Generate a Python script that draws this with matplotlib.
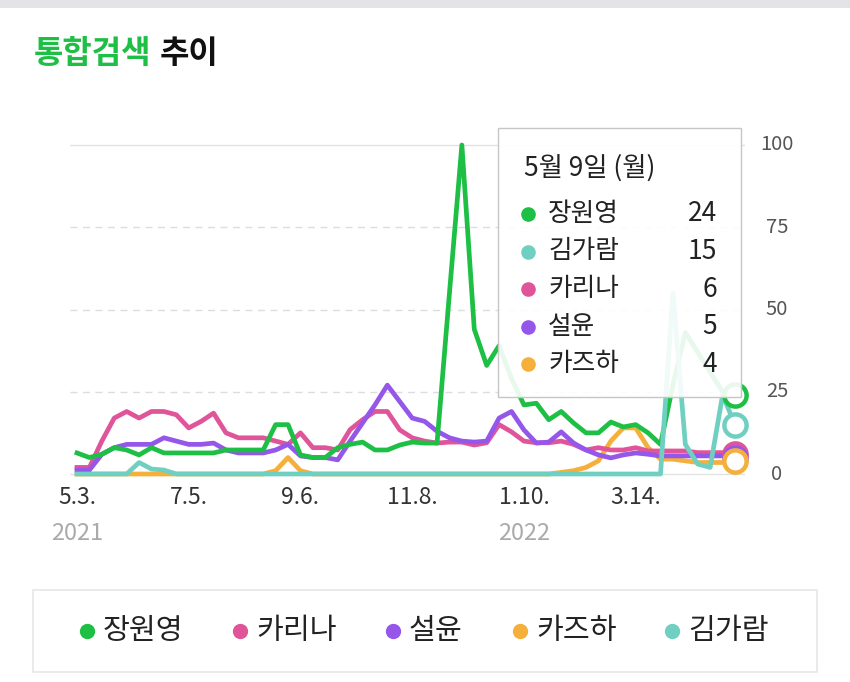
import numpy as np
import pandas as pd
import matplotlib
matplotlib.use('Agg')
import matplotlib.pyplot as plt
import matplotlib.transforms as mtransforms
from matplotlib.patches import Rectangle

plt.rcParams['font.family'] = ['Noto Sans CJK KR', 'DejaVu Sans']

# weekly search trend, 2021-05-03 .. 2022-05-09
dates = pd.date_range('2021-05-03', periods=54, freq='7D')

names = ['장원영', '카리나', '설윤', '카즈하', '김가람']
colors = ['#1dbf45', '#e0559a', '#9457ea', '#f4b03a', '#6fd0c2']

wonyoung = [6.4, 5, 6, 8, 7.3, 5.8, 8, 6.4, 6.4, 6.4, 6.4, 6.4, 7.3, 7.3, 7.3, 7.3, 15, 15,
            5.8, 5, 5, 8, 9, 9.7, 7.3, 7.3, 8.8, 9.7, 9.4, 9.4, 55, 100, 44, 33, 39, 29,
            21, 21.5, 16.5, 19, 15.5, 12.5, 12.5, 15.8, 14.3, 15, 12.5, 9, 27, 43, 37, 31, 25, 24]
karina = [2, 2, 10, 17, 19, 17, 19, 19, 18, 14, 16, 18.5, 12.5, 11, 11, 11, 10, 9,
          12.5, 8, 8, 7.3, 13.5, 16.5, 19, 19, 13.4, 11, 10, 9.4, 9.7, 9.7, 8.8, 9.5, 15, 12.8,
          10, 9.5, 9.5, 10, 9, 7.3, 8, 7.3, 7.3, 8, 7, 7, 7, 7, 6.5, 6.5, 6.5, 6]
seolyoon = [1.2, 1.2, 6, 8, 9, 9, 9, 11, 10, 9, 9, 9.4, 7.3, 6.4, 6.4, 6.4, 7.3, 9,
            5.5, 5, 5, 4.3, 10, 15.5, 21, 27, 22, 17, 16, 13, 11, 10, 9.7, 10, 17, 19,
            13.4, 9.4, 9.7, 12.8, 9.4, 7.3, 5.8, 4.9, 5.8, 6.4, 6, 5.5, 5.5, 5.5, 5.5, 5.5, 5.5, 5]
kazuha = [0, 0, 0, 0, 0, 0, 0, 0, 0, 0, 0, 0, 0, 0, 0, 0, 1, 5,
          1, 0, 0, 0, 0, 0, 0, 0, 0, 0, 0, 0, 0, 0, 0, 0, 0, 0,
          0, 0, 0, 0.5, 1, 2, 4, 10, 14, 14, 8, 4.5, 4.5, 4, 3.5, 3.5, 3.5, 4]
garam = [0, 0, 0, 0, 0, 3.5, 1.5, 1.2, 0, 0, 0, 0, 0, 0, 0, 0, 0, 0,
         0, 0, 0, 0, 0, 0, 0, 0, 0, 0, 0, 0, 0, 0, 0, 0, 0, 0,
         0, 0, 0, 0, 0, 0, 0, 0, 0, 0, 0, 0, 55, 9, 3, 2, 24, 15]
series = [wonyoung, karina, seolyoon, kazuha, garam]

tick_idx = [0, 9, 18, 27, 36, 45]
year_idx = [0, 36]
y_ticks = [0, 25, 50, 75, 100]

W, H = 850, 682


def fx(p):
    return p / W


def fy(p):
    return 1 - p / H


fig = plt.figure(figsize=(W / 100, H / 100), dpi=100)
fig.patch.set_facecolor('white')
fig.add_artist(Rectangle((0, fy(8)), 1, 8 / H, transform=fig.transFigure,
                         fc='#e4e4e8', ec='none'))

# title
fig.text(fx(34), fy(54), '통합검색', color='#1dbf45', fontsize=23,
         fontweight='bold', va='center')
fig.text(fx(160), fy(54), '추이', color='#111111', fontsize=23,
         fontweight='bold', va='center')

ax = fig.add_axes([fx(70), fy(485), 675 / W, 355 / H])
step = 658 / 53
ax.set_xlim(-7 / step, 53 + 10 / step)
ax.set_ylim(-11 / 3.29, 100 + 15 / 3.29)
for s in ax.spines.values():
    s.set_visible(False)
ax.set_xticks([])
ax.set_yticks([])

for v in y_ticks:
    if v in (0, 100):
        ax.axhline(v, color='#e2e2e2', lw=1, zorder=0)
    else:
        ax.axhline(v, color='#dddddd', lw=1, ls=(0, (5, 4)), zorder=0)

x = np.arange(len(dates))
zorders = [4, 2, 3, 1.5, 5]
for vals, c, z in zip(series, colors, zorders):
    ax.plot(x, vals, color=c, lw=3.4, zorder=z)

# end markers
for k in [1, 2, 3, 4, 0]:
    ax.plot(x[-1], series[k][-1], 'o', ms=16, mfc='white', mec=colors[k],
            mew=3.2, zorder=6, clip_on=False)

# right side y labels
ytrans = mtransforms.blended_transform_factory(ax.transAxes, ax.transData)
for v in y_ticks:
    ax.text((777 - 70) / 675, v, str(v), transform=ytrans, ha='center',
            va='center', fontsize=14.5, color='#555555')

# x labels
xtrans = mtransforms.blended_transform_factory(ax.transData, fig.transFigure)
for i in tick_idx:
    d = dates[i]
    ax.text(i, fy(497), f'{d.month}.{d.day}.', transform=xtrans, ha='center',
            va='center', fontsize=16.5, color='#333333')
for i in year_idx:
    ax.text(i, fy(533), str(dates[i].year), transform=xtrans, ha='center',
            va='center', fontsize=17, color='#aaaaaa')

# tooltip
tip = Rectangle((fx(498), fy(397)), 243 / W, 269 / H, transform=fig.transFigure,
                fc=(1, 1, 1, 0.9), ec='#c6c6c6', lw=1, zorder=10, clip_on=False)
ax.add_patch(tip)
last = dates[-1]
weekday = '월화수목금토일'[last.weekday()]
ax.text(fx(524), fy(168), f'{last.month}월 {last.day}일 ({weekday})',
        transform=fig.transFigure, fontsize=19, va='center', color='#222222',
        zorder=11)
order = sorted(range(len(series)), key=lambda k: -series[k][-1])
for row, k in enumerate(order):
    yy = fy(214 + row * 37.5)
    ax.plot([fx(528)], [yy], 'o', ms=9.5, color=colors[k], transform=fig.transFigure,
            clip_on=False, zorder=11)
    ax.text(fx(548), yy, names[k], transform=fig.transFigure, fontsize=18.5,
            va='center', color='#222222', zorder=11)
    ax.text(fx(717), yy, str(int(round(series[k][-1]))), transform=fig.transFigure,
            fontsize=19, va='center', ha='right', color='#222222', zorder=11)

# legend box
fig.add_artist(Rectangle((fx(33), fy(672)), 784 / W, 82 / H, transform=fig.transFigure,
                         fc='white', ec='#e6e6e6', lw=1.2))
dot_x = [87, 240, 393, 520, 672]
for k, dx in enumerate(dot_x):
    fig.add_artist(plt.Line2D([fx(dx)], [fy(631)], marker='o', ms=10, color=colors[k],
                              transform=fig.transFigure))
    fig.text(fx(dx + 16), fy(631), names[k], fontsize=21, va='center', color='#222222')

fig.savefig('out.png', dpi=100, facecolor='white')
